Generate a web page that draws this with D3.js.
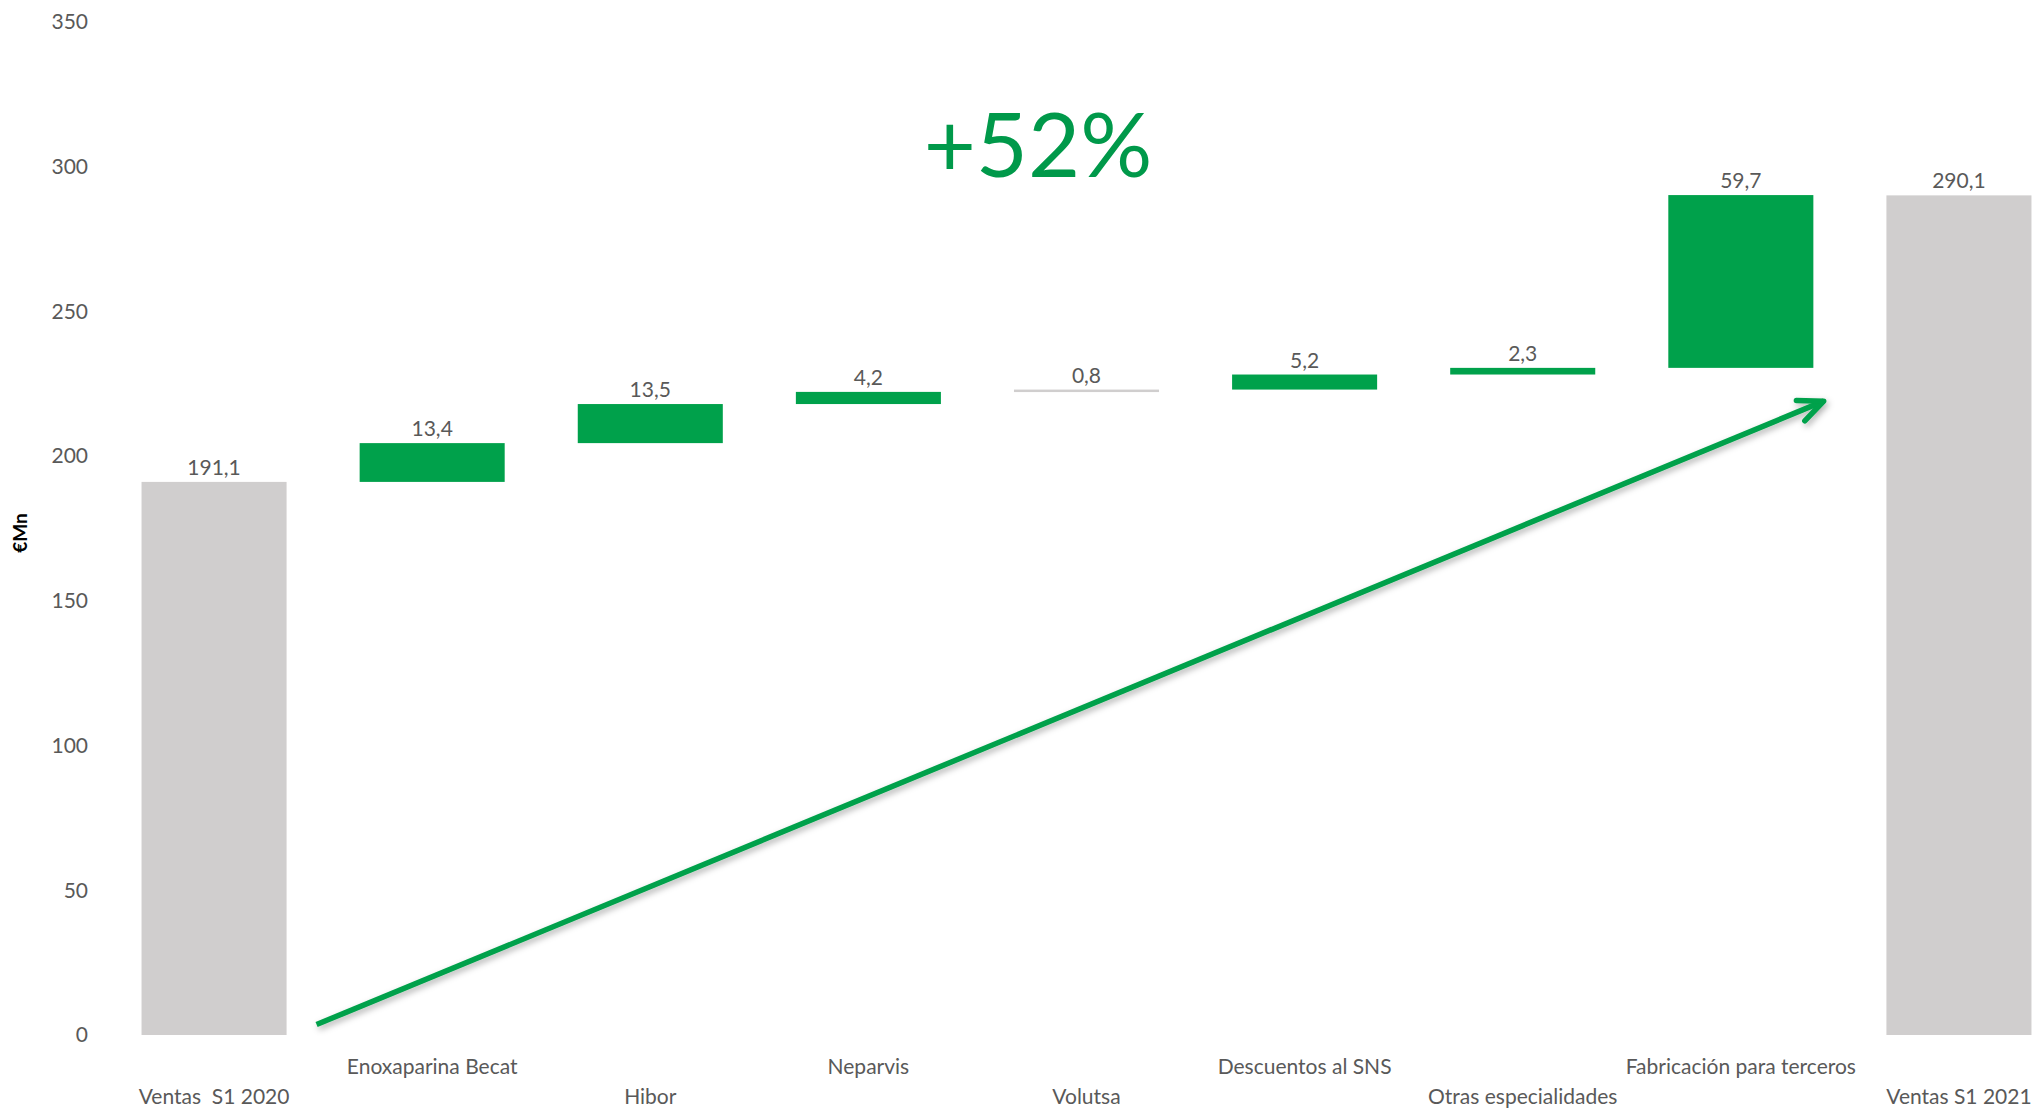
<!DOCTYPE html>
<html><head><meta charset="utf-8">
<script src="https://cdn.jsdelivr.net/npm/d3@7"></script>
<style>
body{margin:0;background:#fff;}
svg text{font-family:Lato, "Open Sans", sans-serif;}
</style>
</head><body>
<svg id="c" width="2036" height="1110"></svg>
<script>
const categories = ["Ventas  S1 2020","Enoxaparina Becat","Hibor","Neparvis","Volutsa","Descuentos al SNS","Otras especialidades","Fabricación para terceros","Ventas S1 2021"];
const values = [191.1, 13.4, 13.5, 4.2, 0.8, 5.2, 2.3, 59.7, 290.1];
const valueLabels = ["191,1","13,4","13,5","4,2","0,8","5,2","2,3","59,7","290,1"];
const barTypes = ["total","up","up","up","neutral","up","up","up","total"];
const yTicks = [0,50,100,150,200,250,300,350];
const growthLabel = "+52%";
const axisTitle = "€Mn";
// arrow annotation in data space: [band steps from first centre, value]
const arrowStart = [0.47, 3.6];
const arrowEnd = [7.38, 219];

const GREEN = "#00a14b", GREY = "#d0cece", TXT = "#595959";
const svg = d3.select("#c");

const x = d3.scaleBand().domain(categories).range([105, 2068]).paddingInner(0.335).paddingOuter(0.1675);
const y = d3.scaleLinear().domain([0, 350]).range([1035, 22]);

// waterfall computation
let run = 0;
const bars = categories.map((c, i) => {
  let y0, y1;
  if (barTypes[i] === "total") { y0 = 0; y1 = values[i]; run = values[i]; }
  else { y0 = run; y1 = run + values[i]; run = y1; }
  return {c, i, y0, y1, type: barTypes[i], label: valueLabels[i]};
});

// y axis (labels only)
const yAxis = d3.axisLeft(y).tickValues(yTicks).tickSize(0).tickPadding(0).tickFormat(d3.format("d"));
const gy = svg.append("g").attr("transform", "translate(88,0)").call(yAxis);
gy.select(".domain").remove();
gy.selectAll("text").attr("fill", TXT).attr("font-size", 21).attr("font-family", "Lato");

svg.append("text").attr("transform", "translate(27,533) rotate(-90)")
  .attr("text-anchor", "middle").attr("font-weight", "bold").attr("font-size", 19)
  .attr("fill", "#000").text(axisTitle);

// bars
svg.append("g").selectAll("rect").data(bars).join("rect")
  .attr("x", d => x(d.c)).attr("width", x.bandwidth())
  .attr("y", d => y(d.y1)).attr("height", d => Math.max(2.5, y(d.y0) - y(d.y1)))
  .attr("fill", d => d.type === "up" ? GREEN : GREY);

// value labels
svg.append("g").selectAll("text").data(bars).join("text")
  .attr("x", d => x(d.c) + x.bandwidth() / 2).attr("y", d => y(d.y1) - 7)
  .attr("text-anchor", "middle").attr("font-size", 21).attr("fill", TXT)
  .text(d => d.label);

// x labels (staggered)
const xAxis = d3.axisBottom(x).tickSize(0).tickPadding(0);
const gx = svg.append("g").attr("transform", "translate(0,1035)").call(xAxis);
gx.select(".domain").remove();
gx.selectAll("text").attr("fill", TXT).attr("font-size", 21).attr("font-family", "Lato")
  .style("white-space", "pre")
  .attr("dy", null)
  .attr("y", (d, i) => i % 2 === 1 ? 39 : 69);

// growth annotation
svg.append("text").attr("x", 1038).attr("y", 177).attr("text-anchor", "middle")
  .attr("font-size", 90).attr("fill", "#00994a").text(growthLabel);

// arrow
const defs = svg.append("defs");
const f = defs.append("filter").attr("id", "sh").attr("x", "-10%").attr("y", "-10%").attr("width", "130%").attr("height", "130%");
f.append("feDropShadow").attr("dx", 2).attr("dy", 3).attr("stdDeviation", 3).attr("flood-color", "#000").attr("flood-opacity", 0.3);
defs.append("marker").attr("id", "ah").attr("markerUnits", "userSpaceOnUse")
  .attr("viewBox", "-30 -16 36 32").attr("markerWidth", 36).attr("markerHeight", 32)
  .attr("refX", 0).attr("refY", 0).attr("orient", "auto")
  .append("path").attr("d", "M-25,-11 L0,0 L-25,11").attr("fill", "none")
  .attr("stroke", GREEN).attr("stroke-width", 5.5).attr("stroke-linecap", "round").attr("stroke-linejoin", "round");
const c0 = x(categories[0]) + x.bandwidth() / 2, step = x.step();
svg.append("line")
  .attr("x1", c0 + arrowStart[0] * step).attr("y1", y(arrowStart[1]))
  .attr("x2", c0 + arrowEnd[0] * step).attr("y2", y(arrowEnd[1]))
  .attr("stroke", GREEN).attr("stroke-width", 5.5).attr("marker-end", "url(#ah)")
  .attr("filter", "url(#sh)");
</script>
</body></html>
